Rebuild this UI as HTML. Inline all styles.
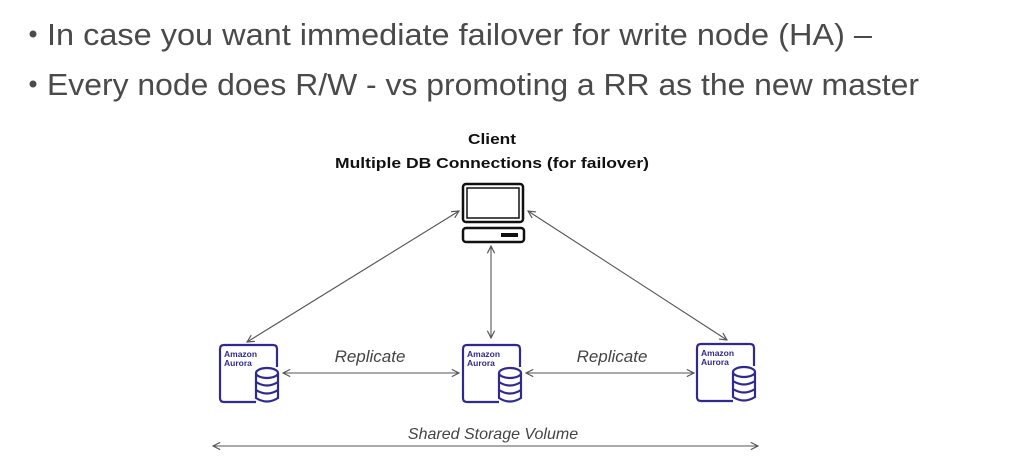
<!DOCTYPE html>
<html><head><meta charset="utf-8"><style>
html,body{margin:0;padding:0;background:#fff;}
svg{display:block;}
</style></head><body>
<svg width="1023" height="474" viewBox="0 0 1023 474" xmlns="http://www.w3.org/2000/svg">
<defs>
<marker id="ah" viewBox="0 0 10 10" refX="9" refY="5" markerWidth="9" markerHeight="9" orient="auto-start-reverse" markerUnits="userSpaceOnUse">
<path d="M1,1 L9,5 L1,9" fill="none" stroke="#555" stroke-width="1.3"/>
</marker>
<g id="aur">
<path d="M36,57 L4,57 Q0,57 0,53 L0,4 Q0,0 4,0 L53,0 Q57,0 57,4 L57,22" fill="none" stroke="#2f2a8c" stroke-width="2.2"/>
<g fill="#fff" stroke="#2f2a8c" stroke-width="2.2">
<path d="M36,28 L36,53 Q47,60 58,53 L58,28"/>
<ellipse cx="47" cy="28" rx="11" ry="5"/>
<path d="M36,37 Q47,44 58,37 M36,45 Q47,52 58,45" fill="none"/>
</g>
</g>
</defs>
<g font-family="Liberation Sans, sans-serif" fill="#4a4a4a">
<circle cx="33" cy="34" r="3.5"/>
<circle cx="33" cy="84" r="3.5"/>
<text x="47" y="45" font-size="31" textLength="825" lengthAdjust="spacingAndGlyphs">In case you want immediate failover for write node (HA) –</text>
<text x="47" y="95" font-size="31" textLength="872" lengthAdjust="spacingAndGlyphs">Every node does R/W - vs promoting a RR as the new master</text>
</g>
<g font-family="Liberation Sans, sans-serif" fill="#111" font-size="15" font-weight="bold" text-anchor="middle">
<text x="492" y="144" textLength="48" lengthAdjust="spacingAndGlyphs">Client</text>
<text x="492" y="168" textLength="314" lengthAdjust="spacingAndGlyphs">Multiple DB Connections (for failover)</text>
</g>
<rect x="463" y="184" width="60" height="38" rx="3" fill="none" stroke="#111" stroke-width="2.5"/>
<rect x="467" y="188" width="52" height="30" fill="none" stroke="#111" stroke-width="1.5"/>
<rect x="463" y="228" width="61" height="14" rx="3" fill="none" stroke="#111" stroke-width="2.5"/>
<rect x="501" y="233" width="17" height="4" fill="#111"/>
<g stroke="#555" stroke-width="1.1" fill="none" marker-start="url(#ah)" marker-end="url(#ah)">
<line x1="247" y1="342" x2="459" y2="211"/>
<line x1="491" y1="246" x2="491" y2="338"/>
<line x1="727" y1="340" x2="528" y2="211"/>
<line x1="283" y1="373" x2="459" y2="373"/>
<line x1="526" y1="373" x2="694" y2="373"/>
<line x1="213" y1="446" x2="758" y2="446"/>
</g>
<use href="#aur" x="220" y="345"/>
<use href="#aur" x="463" y="345"/>
<use href="#aur" x="697" y="344"/>
<g font-family="Liberation Sans, sans-serif" font-weight="bold" fill="#2f2a8c" font-size="8.5">
<text x="224" y="357">Amazon</text><text x="224" y="366">Aurora</text>
<text x="467" y="357">Amazon</text><text x="467" y="366">Aurora</text>
<text x="701" y="356">Amazon</text><text x="701" y="365">Aurora</text>
</g>
<g font-family="Liberation Sans, sans-serif" font-style="italic" fill="#444" font-size="17" text-anchor="middle">
<text x="370" y="362">Replicate</text>
<text x="612" y="362">Replicate</text>
<text x="493" y="439" font-size="16">Shared Storage Volume</text>
</g>
</svg>
</body></html>
